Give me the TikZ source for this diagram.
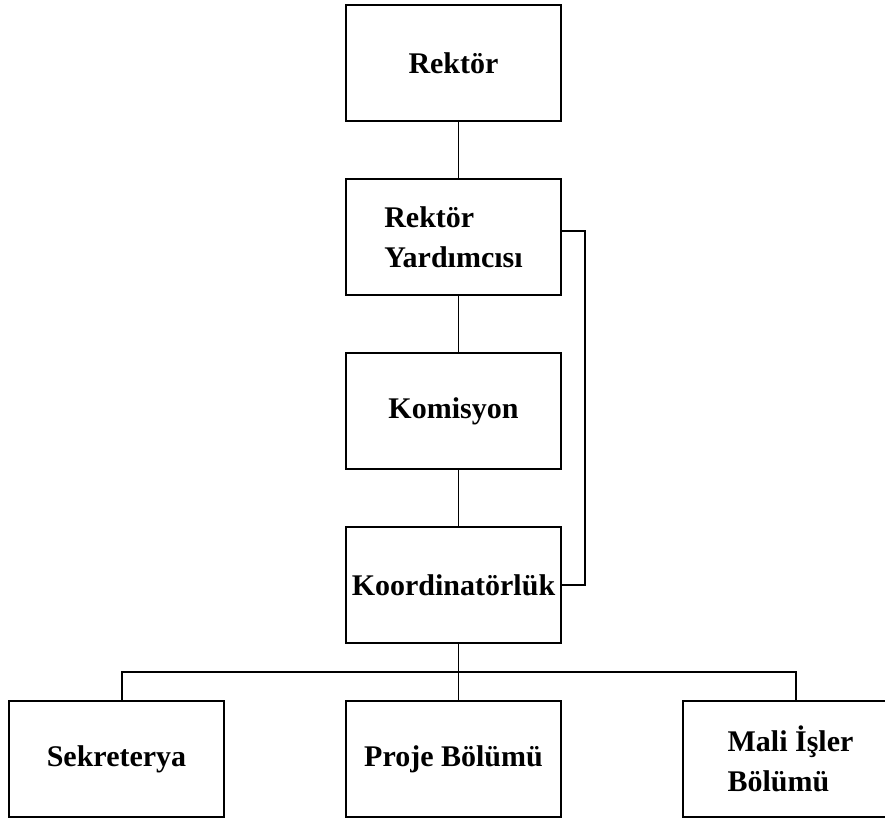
\documentclass[tikz,border=0pt]{standalone}
\usepackage{fontspec}
\setmainfont{Liberation Serif}
\usetikzlibrary{positioning,calc}
\tikzset{
	unit/.style={draw=black, line width=0.9pt, minimum width=107.5pt, minimum height=58pt, inner sep=0pt, outer sep=0pt, align=left, font=\bfseries\fontsize{15}{20}\selectfont},
	link/.style={line width=0.9pt}
}

\begin{document}
\begin{tikzpicture}[node distance=29pt and 61pt]
			%%%%% START %%%%%
			\useasboundingbox (0, 0) rectangle (442.5pt, -409.5pt);
			
			\node[unit] (rektor) at (226.75pt, -31.5pt) {Rekt\"or};
			\node[unit, below=of rektor] (yard) {Rekt\"or\\Yard\i mc\i s\i};
			\node[unit, below=of yard] (komisyon) {Komisyon};
			\node[unit, below=of komisyon] (koord) {Koordinat\"orl\"uk};
			
			\node[unit, below=of koord] (proje) {Proje B\"ol\"um\"u};
			\node[unit, left=of proje] (sekreter) {Sekreterya};
			\node[unit, right=of proje] (mali) {Mali İşler\\B\"ol\"um\"u};
			
			\draw[link] ([xshift=2.5pt]rektor.south) -- ([xshift=2.5pt]yard.north);
			\draw[link] ([xshift=2.5pt]yard.south) -- ([xshift=2.5pt]komisyon.north);
			\draw[link] ([xshift=2.5pt]komisyon.south) -- ([xshift=2.5pt]koord.north);
			\draw[link] ([yshift=3pt]yard.east) -- ++(12pt, 0) |- (koord.east);
			
			\coordinate (branch) at ($(koord.south)!0.5!(proje.north)$);
			\draw[link] ([xshift=2.5pt]koord.south) -- ([xshift=2.5pt]proje.north);
			\draw[link] ([xshift=2.75pt]sekreter.north) |- (branch) -| ([xshift=2.75pt]mali.north);
			%%%%% END %%%%%
\end{tikzpicture}
\end{document}
